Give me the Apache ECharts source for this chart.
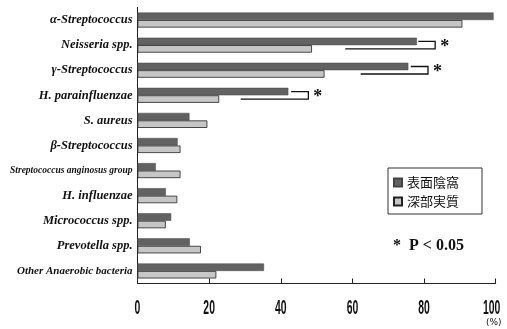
<!DOCTYPE html>
<html><head><meta charset="utf-8">
<script src="https://cdn.jsdelivr.net/npm/echarts@6/dist/echarts.min.js"></script>
<style>html,body{margin:0;padding:0;background:#fff}#c{width:507px;height:329px}</style>
</head><body><div id="c"></div>
<script>
const categories = ['α-Streptococcus','Neisseria spp.','γ-Streptococcus','H. parainfluenzae','S. aureus','β-Streptococcus','Streptococcus anginosus group','H. influenzae','Micrococcus spp.','Prevotella spp.','Other Anaerobic bacteria'];
const surfaceCrypt = [99.4, 78.0, 75.6, 42.1, 14.5, 11.2, 5.1, 7.9, 9.4, 14.6, 35.3];
const deepParenchyma = [90.7, 48.7, 52.2, 22.8, 19.5, 12.0, 12.0, 11.1, 7.9, 17.7, 22.0];
const seriesNames = ['表面陰窩','深部実質'];
const xTicks = [0, 20, 40, 60, 80, 100];
const xTickLabels = ['0', '20', '40', '60', '80', '100'];
const sigIndex = [1, 2, 3];
const bracketStart = [78.4, 76.3, 42.9];
const bracketRight = [83.1, 81.1, 47.7];
const bracketEnd = [58.0, 62.3, 28.8];

const chart = echarts.init(document.getElementById('c'));
const BW = 7.5;
const bracketData = sigIndex.map((c, i) => [c, bracketStart[i], bracketRight[i], bracketEnd[i]]);
const labFont = {fontFamily: 'Liberation Serif, serif', fontWeight: 'bold', fontStyle: 'italic', color: '#111'};
chart.setOption({
  animation: false,
  grid: {left: 137.5, right: 11.3, top: 7.5, bottom: 45.5},
  legend: {
    data: seriesNames.map(n => ({name: n, icon: 'rect'})), orient: 'vertical', left: 388, top: 168,
    itemWidth: 8, itemHeight: 8, itemGap: 6,
    padding: [8, 5, 8, 5],
    textStyle: {fontFamily: 'Noto Sans CJK JP', fontSize: 13, color: '#111'}
  },
  xAxis: {
    type: 'value', min: xTicks[0], max: xTicks[xTicks.length - 1], interval: 20,
    splitLine: {show: false},
    axisLine: {show: true, lineStyle: {color: '#222', width: 1}},
    axisTick: {show: true, inside: true, length: 5, lineStyle: {color: '#222'}},
    axisLabel: {show: false}
  },
  yAxis: {
    type: 'category', data: categories, inverse: true,
    axisLine: {show: true, lineStyle: {color: '#222', width: 1}},
    axisTick: {show: false},
    axisLabel: Object.assign({
      margin: 5, fontSize: 12.5,
      formatter: v => v === 'Streptococcus anginosus group' ? '{s|' + v + '}' : (v === 'Other Anaerobic bacteria' ? '{o|' + v + '}' : v),
      rich: {s: Object.assign({fontSize: 9.5}, labFont), o: Object.assign({fontSize: 11}, labFont)}
    }, labFont)
  },
  series: [
    {name: seriesNames[0], type: 'bar', data: surfaceCrypt, barWidth: BW, barGap: '0%',
     itemStyle: {color: '#626262', borderColor: '#444', borderWidth: 0.5}},
    {name: seriesNames[1], type: 'bar', data: deepParenchyma, barWidth: BW, barGap: '0%',
     itemStyle: {color: '#c6c6c6', borderColor: '#222', borderWidth: 0.8}},
    {type: 'custom', data: bracketData, encode: {x: [1, 2, 3], y: 0}, z: 5, silent: true,
     renderItem: (params, api) => {
       const c = api.value(0);
       const p1 = api.coord([api.value(1), c]);
       const p2 = api.coord([api.value(2), c]);
       const p3 = api.coord([api.value(3), c]);
       const yT = p1[1] - BW / 2, yB = p1[1] + BW / 2;
       return {type: 'group', children: [
         {type: 'polyline', shape: {points: [[p1[0], yT], [p2[0], yT], [p2[0], yB], [p3[0], yB]]},
          style: {stroke: '#111', lineWidth: 1.3, fill: null}},
         {type: 'text', x: p2[0] + 5, y: yB - 2, style: {text: '*', font: 'bold 18px Liberation Serif', fill: '#111', verticalAlign: 'middle'}}
       ]};
     }}
  ]
});
const tickTexts = xTicks.map((v, i) => {
  const px = chart.convertToPixel({xAxisIndex: 0}, v);
  return {type: 'text', x: px - (i === xTicks.length - 1 ? 4 : 0), y: 308, scaleX: 0.52,
    style: {text: xTickLabels[i], font: 'bold 20px Liberation Sans', fill: '#111', align: 'center', verticalAlign: 'middle'}};
});
chart.setOption({graphic: [
  {type: 'rect', shape: {x: 388, y: 168, width: 94, height: 46}, style: {stroke: '#333', lineWidth: 1, fill: 'none'}},
  {type: 'text', x: 393, y: 238, style: {text: '*  P < 0.05', font: 'bold 16px Liberation Serif', fill: '#111'}},
  {type: 'text', x: 486, y: 318, style: {text: '(%)', font: '9px DejaVu Sans', fill: '#111'}}
].concat(tickTexts)});
</script></body></html>
